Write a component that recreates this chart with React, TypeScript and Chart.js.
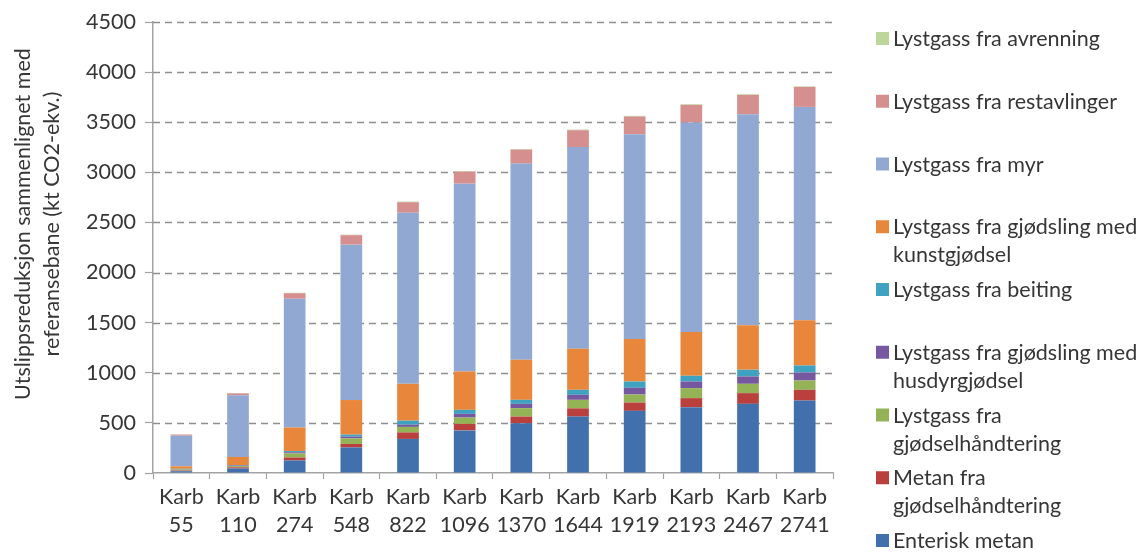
import { useEffect, useRef } from 'react';
import { Chart, registerables } from 'chart.js';

Chart.register(...registerables);

// Karbon price levels along the x axis
const karbLevels = ['55', '110', '274', '548', '822', '1096', '1370', '1644', '1919', '2193', '2467', '2741'];
const categoryLabels = karbLevels.map((k) => ['Karb', k]);

// Emission reductions (kt CO2-ekv.), stacked from bottom to top
const enteriskMetan = [18, 45, 125, 255, 340, 425, 497, 563, 620, 657, 690, 723];
const metanGjodselhandtering = [6, 12, 30, 35, 65, 65, 66, 82, 83, 90, 107, 107];
const lystgassGjodselhandtering = [10, 12, 40, 55, 55, 63, 84, 85, 80, 100, 93, 93];
const lystgassHusdyrgjodsel = [4, 6, 12, 18, 22, 37, 43, 50, 67, 66, 73, 80];
const lystgassBeiting = [4, 5, 12, 20, 40, 40, 40, 50, 63, 57, 67, 70];
const lystgassKunstgjodsel = [25, 80, 235, 345, 368, 383, 400, 410, 424, 437, 443, 450];
const lystgassMyr = [305, 615, 1285, 1550, 1707, 1874, 1957, 2013, 2043, 2090, 2107, 2130];
const lystgassRestavlinger = [12, 20, 55, 95, 105, 120, 140, 167, 177, 176, 193, 200];
const lystgassAvrenning = [1, 2, 4, 5, 6, 6, 6, 7, 7, 7, 7, 5];

const seriesValues = [
  enteriskMetan,
  metanGjodselhandtering,
  lystgassGjodselhandtering,
  lystgassHusdyrgjodsel,
  lystgassBeiting,
  lystgassKunstgjodsel,
  lystgassMyr,
  lystgassRestavlinger,
  lystgassAvrenning,
];

const seriesNames = [
  'Enterisk metan',
  'Metan fra gjødselhåndtering',
  'Lystgass fra gjødselhåndtering',
  'Lystgass fra gjødsling med husdyrgjødsel',
  'Lystgass fra beiting',
  'Lystgass fra gjødsling med kunstgjødsel',
  'Lystgass fra myr',
  'Lystgass fra restavlinger',
  'Lystgass fra avrenning',
];

// Wrapped legend text, one entry per series
const legendLines = [
  ['Enterisk metan'],
  ['Metan fra', 'gjødselhåndtering'],
  ['Lystgass fra', 'gjødselhåndtering'],
  ['Lystgass fra gjødsling med', 'husdyrgjødsel'],
  ['Lystgass fra beiting'],
  ['Lystgass fra gjødsling med', 'kunstgjødsel'],
  ['Lystgass fra myr'],
  ['Lystgass fra restavlinger'],
  ['Lystgass fra avrenning'],
];

const seriesColors = [
  '#4170AD',
  '#BA403D',
  '#94B356',
  '#7658A0',
  '#3FA2C0',
  '#E8873B',
  '#91A9D2',
  '#D58F8E',
  '#BDD69B',
];

const yAxisTitle = ['Utslippsreduksjon sammenlignet med', 'referansebane (kt CO2-ekv.)'];
const yMin = 0;
const yMax = 4500;
const yStep = 500;

const FONT_FAMILY = 'Lato';
const FONT_SIZE = 21.5;
const TEXT_COLOR = '#363636';
const AXIS_COLOR = '#a3a3a3';
const GRID_COLOR = '#8e8e8e';

// Dashed horizontal grid lines behind the bars, one per y tick
const dashedGridPlugin = {
  id: 'dashedGrid',
  beforeDatasetsDraw(chart: any) {
    const { ctx, chartArea, scales } = chart;
    const yScale = scales.y;
    ctx.save();
    ctx.strokeStyle = GRID_COLOR;
    ctx.lineWidth = 1.3;
    ctx.setLineDash([7, 5]);
    yScale.ticks.forEach((tick: any) => {
      if (tick.value === yMin) return;
      const y = Math.round(yScale.getPixelForValue(tick.value)) + 0.5;
      ctx.beginPath();
      ctx.moveTo(chartArea.left, y);
      ctx.lineTo(chartArea.right, y);
      ctx.stroke();
    });
    ctx.restore();
  },
};

// Two-line rotated title for the value axis
const yTitlePlugin = {
  id: 'yTitle',
  afterDraw(chart: any) {
    const ctx = chart.ctx;
    ctx.save();
    ctx.font = `${FONT_SIZE}px ${FONT_FAMILY}`;
    ctx.fillStyle = TEXT_COLOR;
    ctx.textAlign = 'center';
    ctx.textBaseline = 'middle';
    const cy = 224;
    const xs = [23, 52];
    yAxisTitle.forEach((line, i) => {
      ctx.save();
      ctx.translate(xs[i], cy);
      ctx.rotate(-Math.PI / 2);
      ctx.fillText(line, 0, 0);
      ctx.restore();
    });
    ctx.restore();
  },
};

// Legend on the right, listed from the top of the stack downwards
const sideLegendPlugin = {
  id: 'sideLegend',
  afterDraw(chart: any) {
    const ctx = chart.ctx;
    const datasets = chart.data.datasets;
    const n = datasets.length;
    ctx.save();
    ctx.font = `${FONT_SIZE}px ${FONT_FAMILY}`;
    ctx.textAlign = 'left';
    ctx.textBaseline = 'alphabetic';
    for (let slot = 0; slot < n; slot++) {
      const di = n - 1 - slot;
      const base = 46 + 62.75 * slot;
      ctx.fillStyle = datasets[di].backgroundColor;
      ctx.fillRect(876, base - 14, 13, 13);
      ctx.fillStyle = TEXT_COLOR;
      legendLines[di].forEach((line, li) => {
        ctx.fillText(line, 893, base + li * 28);
      });
    }
    ctx.restore();
  },
};

export default function App() {
  const canvasRef = useRef<HTMLCanvasElement | null>(null);

  useEffect(() => {
    const canvas = canvasRef.current;
    if (!canvas) return;

    const chart = new Chart(canvas, {
      type: 'bar',
      data: {
        labels: categoryLabels,
        datasets: seriesValues.map((values, i) => ({
          label: seriesNames[i],
          data: values,
          backgroundColor: seriesColors[i],
          borderWidth: 0,
          barPercentage: 0.383,
          categoryPercentage: 1,
        })),
      },
      options: {
        responsive: false,
        animation: false,
        events: [],
        layout: {
          padding: { top: 22, right: 312, left: 0, bottom: 0 },
        },
        plugins: {
          legend: { display: false },
          tooltip: { enabled: false },
          title: { display: false },
        },
        scales: {
          x: {
            stacked: true,
            afterFit(scale: any) {
              scale.height = 81;
            },
            grid: {
              display: true,
              offset: true,
              drawOnChartArea: false,
              drawTicks: true,
              tickLength: 6,
              tickColor: AXIS_COLOR,
              tickWidth: 1.2,
            },
            border: { display: true, color: AXIS_COLOR, width: 1.5 },
            ticks: {
              color: TEXT_COLOR,
              font: { family: FONT_FAMILY, size: FONT_SIZE, lineHeight: '28px' },
              padding: 4,
              maxRotation: 0,
              autoSkip: false,
            },
          },
          y: {
            stacked: true,
            min: yMin,
            max: yMax,
            afterFit(scale: any) {
              scale.width = 153;
            },
            grid: {
              drawOnChartArea: false,
              drawTicks: true,
              tickLength: 8,
              tickColor: AXIS_COLOR,
              tickWidth: 1.2,
            },
            border: { display: true, color: AXIS_COLOR, width: 1.5 },
            ticks: {
              stepSize: yStep,
              color: TEXT_COLOR,
              font: { family: FONT_FAMILY, size: FONT_SIZE },
              padding: 9,
              callback: (value: any) => String(value),
            },
          },
        },
      },
      plugins: [dashedGridPlugin, yTitlePlugin, sideLegendPlugin],
    });

    return () => {
      chart.destroy();
    };
  }, []);

  return (
    <div
      style={{
        position: 'fixed',
        left: 0,
        top: 0,
        width: 1145,
        height: 554,
        background: '#ffffff',
      }}
    >
      <canvas ref={canvasRef} width={1145} height={554} />
    </div>
  );
}
